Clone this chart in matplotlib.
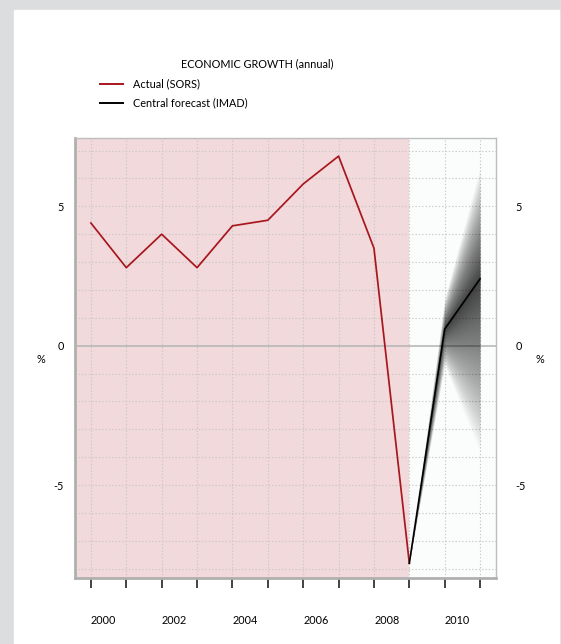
"""
Economic growth chart (actual vs. central forecast with fan)
"""

import matplotlib.pyplot as plt
import numpy as np
from matplotlib.lines import Line2D
from matplotlib.patches import Rectangle

plt.rcParams["font.family"] = ["Lato", "DejaVu Sans"]

# ─── Data ─────────────────────────────────────────────────────────────────────

actual_years = [2000, 2001, 2002, 2003, 2004, 2005, 2006, 2007, 2008, 2009]
actual_growth = [4.4, 2.8, 4.0, 2.8, 4.3, 4.5, 5.8, 6.8, 3.5, -7.8]

forecast_years = [2009, 2010, 2011]
forecast_growth = [-7.8, 0.6, 2.4]
fan_upper_width = [0.0, 1.1, 4.0]
fan_lower_width = [0.0, 1.3, 6.2]

label_years = [2000, 2002, 2004, 2006, 2008, 2010]
y_labels = [-5, 0, 5]

title = "ECONOMIC GROWTH (annual)"
legend_labels = ["Actual (SORS)", "Central forecast (IMAD)"]

FS = 7.8

# ─── Figure ───────────────────────────────────────────────────────────────────

W, H = 561, 644
fig = plt.figure(figsize=(W / 100, H / 100), dpi=100)
fig.patch.set_facecolor("#dcdddf")
fig.patches.append(Rectangle((14 / W, 0), (559 - 14) / W, 1 - 10 / H,
                             transform=fig.transFigure, color="white", zorder=-5))

ax = fig.add_axes([75 / W, 1 - 578 / H, (496 - 75) / W, (578 - 138) / H])
ax.set_xlim(1999.55, 2011.45)
ax.set_ylim(-8.33, 7.45)

# zones
ax.set_facecolor("#fbfcfc")
ax.axvspan(1999.55, 2009, color="#f2d9db", zorder=0, lw=0)

# grid
for yr in range(2000, 2012):
    ax.axvline(yr, color="#c8c8c8", lw=0.8, ls=(0, (1.2, 1.8)), zorder=1)
for v in range(-8, 8):
    if v != 0:
        ax.axhline(v, color="#c8c8c8", lw=0.8, ls=(0, (1.2, 1.8)), zorder=1)
ax.axhline(0, color="#b8b8b8", lw=1.2, zorder=1)

# fan (couches superposées → dégradé)
fy = np.array(forecast_years, dtype=float)
fc = np.array(forecast_growth)
up = np.array(fan_upper_width)
lo = np.array(fan_lower_width)
n_layers = 50
for i in range(n_layers):
    frac = ((i + 1) / n_layers) ** 1.4
    ax.fill_between(fy, fc - frac * lo, fc + frac * up, color="black",
                    alpha=0.022, lw=0, zorder=2)

ax.plot(actual_years, actual_growth, color="#a8161d", lw=1.25, zorder=3)
ax.plot(forecast_years, forecast_growth, color="black", lw=1.2, zorder=4)

# frame
for side in ["top", "right"]:
    ax.spines[side].set_color("#bdbdbd")
    ax.spines[side].set_linewidth(1.0)
for side in ["left", "bottom"]:
    ax.spines[side].set_color("#b0b0b0")
    ax.spines[side].set_linewidth(2.0)

# x ticks: marks at each year, labels shifted
ax.set_xticks(range(2000, 2012), minor=True)
ax.tick_params(axis="x", which="minor", length=7, width=1.2, color="#222222",
               direction="out")
ax.set_xticks([y + 0.36 for y in label_years])
ax.set_xticklabels([str(y) for y in label_years], fontsize=FS)
ax.tick_params(axis="x", which="major", length=0, pad=27)

# y ticks left / right
ax.set_yticks(y_labels)
ax.set_yticklabels([str(v) for v in y_labels], fontsize=FS)
ax.tick_params(axis="y", length=0, pad=8)
ax2 = ax.twinx()
ax2.set_ylim(ax.get_ylim())
ax2.set_yticks(y_labels)
ax2.set_yticklabels([str(v) for v in y_labels], fontsize=FS)
ax2.tick_params(axis="y", length=0, pad=14)
for s in ax2.spines.values():
    s.set_visible(False)

fig.text(41 / W, 1 - 360 / H, "%", fontsize=FS, ha="center", va="center")
fig.text(540 / W, 1 - 360 / H, "%", fontsize=FS, ha="center", va="center")

# title & legend
fig.text(257 / W, 1 - 64 / H, title, fontsize=FS, ha="center", va="center")
for k, (lbl, col) in enumerate(zip(legend_labels, ["#a8161d", "black"])):
    yy = 1 - (84 + 19 * k) / H
    fig.add_artist(Line2D([100 / W, 123 / W], [yy, yy], color=col, lw=1.4,
                          transform=fig.transFigure))
    fig.text(133 / W, yy, lbl, fontsize=FS, ha="left", va="center")

fig.savefig("out.png", dpi=100)
